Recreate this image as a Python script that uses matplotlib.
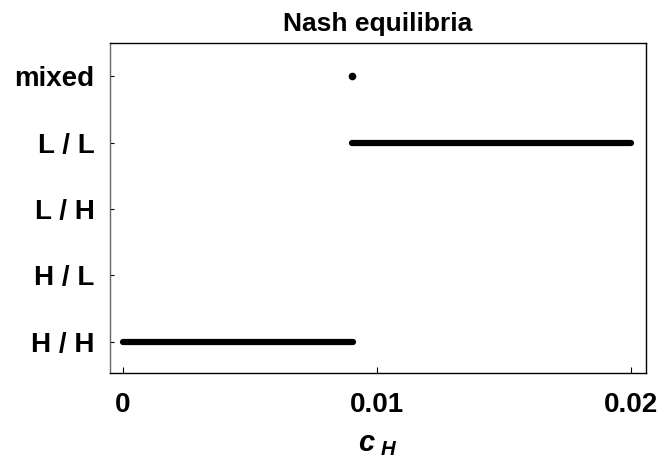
import matplotlib
matplotlib.use("Agg")
import matplotlib.pyplot as plt

# equilibrium categories (bottom to top)
categories = ["H / H", "H / L", "L / H", "L / L", "mixed"]

# c_H ranges where each equilibrium holds
hh_x = [0.0, 0.00907]
ll_x = [0.00903, 0.02]
mixed_x = [0.00903]

x_ticks = [0, 0.01, 0.02]
x_tick_labels = ["0", "0.01", "0.02"]

plt.rcParams['font.family'] = ['Liberation Sans', 'DejaVu Sans']
plt.rcParams['font.weight'] = 'bold'
plt.rcParams['mathtext.fontset'] = 'custom'
plt.rcParams['mathtext.it'] = 'Liberation Sans:italic:bold'
plt.rcParams['mathtext.rm'] = 'Liberation Sans:bold'

fig = plt.figure(figsize=(6.58, 4.62), dpi=100)
ax = fig.add_axes([0.1672, 0.1926, 0.8146, 0.7143])

ax.plot(hh_x, [1, 1], color='black', lw=4.5, solid_capstyle='round')
ax.plot(ll_x, [4, 4], color='black', lw=4.5, solid_capstyle='round')
ax.plot(mixed_x, [5], 'o', color='black', ms=5.5, mew=0)

ax.set_xlim(-0.0005, 0.0206)
ax.set_ylim(0.53, 5.5)

ax.set_yticks(range(1, len(categories) + 1))
ax.set_yticklabels(categories, fontsize=20, fontweight='bold')
ax.set_xticks(x_ticks)
ax.set_xticklabels(x_tick_labels, fontsize=20, fontweight='bold')
ax.tick_params(axis='y', direction='in', length=3, width=0.8, pad=11)
ax.tick_params(axis='x', direction='in', length=4, width=0.8, pad=14)

ax.spines['left'].set_color('#666666')
for s in ['top', 'right', 'bottom']:
    ax.spines[s].set_color('black')
for s in ax.spines.values():
    s.set_linewidth(1.0)

ax.set_xlabel(r'$c_{\ H}$', fontsize=21, labelpad=8)
ax.set_title("Nash equilibria", fontsize=19, fontweight='bold', pad=9)

fig.savefig("out.png", dpi=100)
